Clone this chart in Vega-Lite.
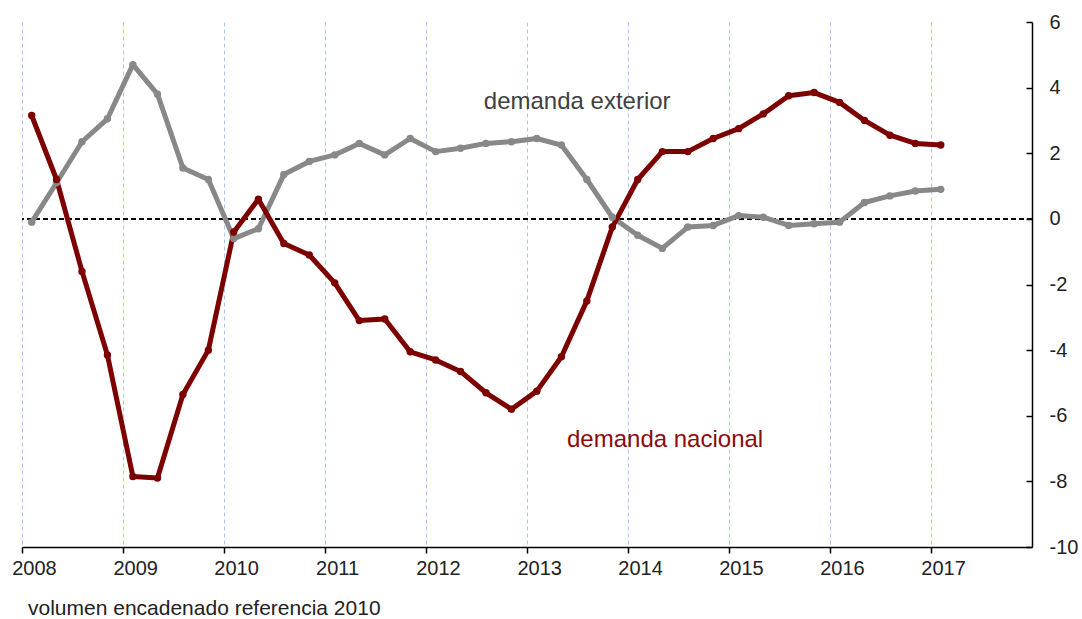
{
  "$schema": "https://vega.github.io/schema/vega-lite/v6.json",
  "width": 1010,
  "height": 525,
  "autosize": {"type": "none"},
  "padding": {"left": 22, "top": 22, "right": 50, "bottom": 72},
  "background": "white",
  "config": {"view": {"stroke": null}, "font": "Liberation Sans"},
  "title": {"text": "volumen encadenado referencia 2010", "orient": "bottom", "anchor": "start", "frame": "group", "dx": 6, "offset": 20, "fontSize": 21, "fontWeight": "normal", "color": "#222222", "font": "Liberation Sans"},
  "datasets": {
    "main": [
      {"fecha": "2008-02-05", "nacional": 3.15, "exterior": -0.1},
      {"fecha": "2008-05-05", "nacional": 1.2, "exterior": 1.1},
      {"fecha": "2008-08-05", "nacional": -1.6, "exterior": 2.35},
      {"fecha": "2008-11-05", "nacional": -4.15, "exterior": 3.05},
      {"fecha": "2009-02-05", "nacional": -7.85, "exterior": 4.7},
      {"fecha": "2009-05-05", "nacional": -7.9, "exterior": 3.8},
      {"fecha": "2009-08-05", "nacional": -5.35, "exterior": 1.55},
      {"fecha": "2009-11-05", "nacional": -4.0, "exterior": 1.2},
      {"fecha": "2010-02-05", "nacional": -0.4, "exterior": -0.6},
      {"fecha": "2010-05-05", "nacional": 0.6, "exterior": -0.3},
      {"fecha": "2010-08-05", "nacional": -0.75, "exterior": 1.35},
      {"fecha": "2010-11-05", "nacional": -1.1, "exterior": 1.75},
      {"fecha": "2011-02-05", "nacional": -1.95, "exterior": 1.95},
      {"fecha": "2011-05-05", "nacional": -3.1, "exterior": 2.3},
      {"fecha": "2011-08-05", "nacional": -3.05, "exterior": 1.95},
      {"fecha": "2011-11-05", "nacional": -4.05, "exterior": 2.45},
      {"fecha": "2012-02-05", "nacional": -4.3, "exterior": 2.05},
      {"fecha": "2012-05-05", "nacional": -4.65, "exterior": 2.15},
      {"fecha": "2012-08-05", "nacional": -5.3, "exterior": 2.3},
      {"fecha": "2012-11-05", "nacional": -5.8, "exterior": 2.35},
      {"fecha": "2013-02-05", "nacional": -5.25, "exterior": 2.45},
      {"fecha": "2013-05-05", "nacional": -4.2, "exterior": 2.25},
      {"fecha": "2013-08-05", "nacional": -2.5, "exterior": 1.2},
      {"fecha": "2013-11-05", "nacional": -0.25, "exterior": 0.05},
      {"fecha": "2014-02-05", "nacional": 1.2, "exterior": -0.5},
      {"fecha": "2014-05-05", "nacional": 2.05, "exterior": -0.9},
      {"fecha": "2014-08-05", "nacional": 2.05, "exterior": -0.25},
      {"fecha": "2014-11-05", "nacional": 2.45, "exterior": -0.2},
      {"fecha": "2015-02-05", "nacional": 2.75, "exterior": 0.1},
      {"fecha": "2015-05-05", "nacional": 3.2, "exterior": 0.05},
      {"fecha": "2015-08-05", "nacional": 3.75, "exterior": -0.2},
      {"fecha": "2015-11-05", "nacional": 3.85, "exterior": -0.15},
      {"fecha": "2016-02-05", "nacional": 3.55, "exterior": -0.1},
      {"fecha": "2016-05-05", "nacional": 3.0, "exterior": 0.5},
      {"fecha": "2016-08-05", "nacional": 2.55, "exterior": 0.7},
      {"fecha": "2016-11-05", "nacional": 2.3, "exterior": 0.85},
      {"fecha": "2017-02-05", "nacional": 2.25, "exterior": 0.9}
    ],
    "etiquetas": [
      {"fecha": "2013-07-01", "valor": 3.55, "texto": "demanda exterior"},
      {"fecha": "2014-05-15", "valor": -6.75, "texto": "demanda nacional"}
    ]
  },
  "layer": [
    {
      "data": {"name": "main"},
      "mark": {"type": "rule", "color": "black", "strokeWidth": 1.5, "strokeDash": [5, 3]},
      "encoding": {"y": {"datum": 0}}
    },
    {
      "data": {"name": "main"},
      "transform": [{"fold": ["exterior", "nacional"], "as": ["serie", "valor"]}],
      "mark": {"type": "line", "strokeWidth": 5, "strokeJoin": "round", "point": {"filled": true, "size": 55}},
      "encoding": {
        "x": {
          "field": "fecha", "type": "temporal",
          "scale": {"type": "utc", "domain": [{"year": 2008, "month": 1, "date": 1, "utc": true}, {"year": 2018, "month": 1, "date": 1, "utc": true}]},
          "axis": {
            "title": null,
            "values": [{"year": 2008, "utc": true}, {"year": 2009, "utc": true}, {"year": 2010, "utc": true}, {"year": 2011, "utc": true}, {"year": 2012, "utc": true}, {"year": 2013, "utc": true}, {"year": 2014, "utc": true}, {"year": 2015, "utc": true}, {"year": 2016, "utc": true}, {"year": 2017, "utc": true}],
            "format": "%Y",
            "labelFlush": false,
            "labelOverlap": false,
            "labelOffset": 12,
            "labelFontSize": 20,
            "labelColor": "#222222",
            "labelPadding": 5,
            "labelFont": "Liberation Sans",
            "domainColor": "black",
            "domainWidth": 1.5,
            "tickColor": "black",
            "tickWidth": 1.5,
            "tickSize": 6,
            "grid": true,
            "gridColor": "#a9c6f0",
            "gridDash": [4, 3],
            "gridWidth": 1
          }
        },
        "y": {
          "field": "valor", "type": "quantitative",
          "scale": {"domain": [-10, 6], "nice": false, "zero": false},
          "axis": {
            "orient": "right",
            "title": null,
            "values": [-10, -8, -6, -4, -2, 0, 2, 4, 6],
            "labelExpr": "datum.value < 0 ? '-' + abs(datum.value) : '' + datum.value",
            "grid": false,
            "labelFontSize": 20,
            "labelColor": "#222222",
            "labelFont": "Liberation Sans",
            "labelAlign": "left",
            "labelPadding": 23,
            "domainColor": "black",
            "domainWidth": 1.5,
            "tickColor": "black",
            "tickWidth": 1.5,
            "tickSize": -6
          }
        },
        "color": {"field": "serie", "type": "nominal", "scale": {"domain": ["exterior", "nacional"], "range": ["#888888", "#7d0000"]}, "legend": null}
      }
    },
    {
      "data": {"name": "etiquetas"},
      "transform": [{"filter": "datum.texto == 'demanda exterior'"}],
      "mark": {"type": "text", "fontSize": 24, "color": "#404040", "align": "center", "baseline": "middle", "font": "Liberation Sans"},
      "encoding": {
        "x": {"field": "fecha", "type": "temporal"},
        "y": {"field": "valor", "type": "quantitative"},
        "text": {"field": "texto"}
      }
    },
    {
      "data": {"name": "etiquetas"},
      "transform": [{"filter": "datum.texto == 'demanda nacional'"}],
      "mark": {"type": "text", "fontSize": 24, "color": "#8b0a0a", "align": "center", "baseline": "middle", "font": "Liberation Sans"},
      "encoding": {
        "x": {"field": "fecha", "type": "temporal"},
        "y": {"field": "valor", "type": "quantitative"},
        "text": {"field": "texto"}
      }
    }
  ]
}
